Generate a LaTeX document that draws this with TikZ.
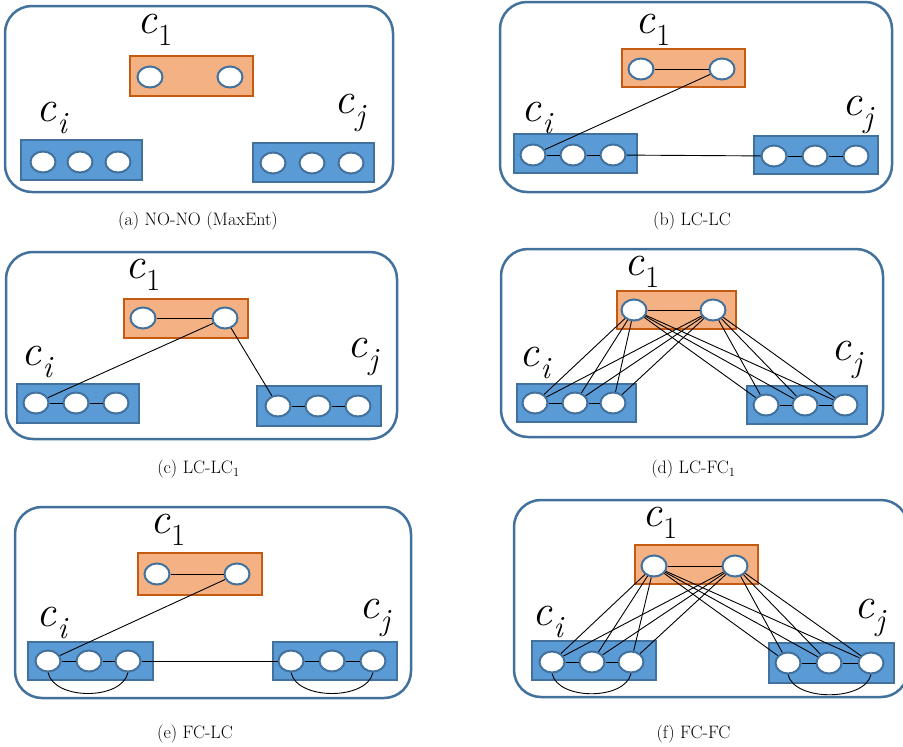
\documentclass[tikz,border=0pt]{standalone}
\usepackage{fontspec}
\usetikzlibrary{shapes.geometric}
\definecolor{obl}{HTML}{41719C}
\definecolor{bfill}{HTML}{5B9BD5}
\definecolor{ofill}{HTML}{F4B183}
\definecolor{oedge}{HTML}{C55A11}
\newcommand\clab[1]{{\itshape c}\kern1pt\textsubscript{#1}}
\tikzset{
 panel/.style={draw=obl, line width=2.5pt, rounded corners=27pt, rectangle, inner sep=0},
 bbox/.style={draw=obl, fill=bfill, line width=2.2pt, inner sep=0, rectangle},
 obox/.style={draw=oedge, fill=ofill, line width=2.2pt, inner sep=0, rectangle},
 nd/.style={ellipse, draw=obl, fill=white, line width=2pt, minimum width=25pt, minimum height=21pt, inner sep=0},
 lbl/.style={font=\fontsize{44}{44}\selectfont, inner sep=0},
 captxt/.style={font=\fontsize{18}{20}\selectfont, inner sep=0},
 ed/.style={draw=black, line width=0.9pt},
}
\begin{document}
\begin{tikzpicture}[x=1pt,y=-1pt]
\useasboundingbox (0,0) rectangle (903,747);
% ---------- (a)
\node[panel, minimum width=388pt, minimum height=186pt] (apan) at (199,99) {};
\node[obox, minimum width=123pt, minimum height=40pt] (a1box) at (191.5,76) {};
\node[bbox, minimum width=121pt, minimum height=40pt] (aibox) at (81.5,160) {};
\node[bbox, minimum width=121pt, minimum height=39pt] (ajbox) at (313.5,162.5) {};
\node[nd] (a1a) at (150,77) {};
\node[nd] (a1b) at (230,77) {};
\node[nd] (aia) at (43,162) {};
\node[nd] (aib) at (80,162) {};
\node[nd] (aic) at (118,162) {};
\node[nd] (aja) at (273,163) {};
\node[nd] (ajb) at (312,163) {};
\node[nd] (ajc) at (351,163) {};
\node[lbl] (a1lab) at (155,30) {\clab{1}};
\node[lbl] (ailab) at (52,118) {\clab{\itshape i}};
\node[lbl] (ajlab) at (350,113) {\clab{\itshape j}};
\node[captxt] (acap) at (198,221) {(a) NO-NO (MaxEnt)};
% ---------- (b)
\node[panel, minimum width=392pt, minimum height=190pt] (bpan) at (696,97) {};
\node[obox, minimum width=123pt, minimum height=38pt] (b1box) at (683.5,68) {};
\node[bbox, minimum width=123pt, minimum height=39pt] (bibox) at (575.5,153.5) {};
\node[bbox, minimum width=124pt, minimum height=38pt] (bjbox) at (816,155) {};
\node[nd] (b1a) at (641,69) {};
\node[nd] (b1b) at (722,69) {};
\node[nd] (bia) at (533,155) {};
\node[nd] (bib) at (573,155) {};
\node[nd] (bic) at (613,155) {};
\node[nd] (bja) at (774,156) {};
\node[nd] (bjb) at (815,156) {};
\node[nd] (bjc) at (856,156) {};
\node[lbl] (b1lab) at (653,30) {\clab{1}};
\node[lbl] (bilab) at (537,118) {\clab{\itshape i}};
\node[lbl] (bjlab) at (858,115) {\clab{\itshape j}};
\node[captxt] (bcap) at (692,221) {(b) LC-LC};
\draw[ed] (b1a) -- (b1b);
\draw[ed] (b1b) -- (bia);
\draw[ed] (bia) -- (bib) -- (bic);
\draw[ed] (bic) -- (bja);
\draw[ed] (bja) -- (bjb) -- (bjc);
% ---------- (c)
\node[panel, minimum width=391pt, minimum height=187pt] (cpan) at (201.5,345.5) {};
\node[obox, minimum width=124pt, minimum height=39pt] (c1box) at (186,318.5) {};
\node[bbox, minimum width=122pt, minimum height=39pt] (cibox) at (78,403.5) {};
\node[bbox, minimum width=124pt, minimum height=40pt] (cjbox) at (319,406) {};
\node[nd] (c1a) at (143,318) {};
\node[nd] (c1b) at (225,318) {};
\node[nd] (cia) at (36,403) {};
\node[nd] (cib) at (76,403) {};
\node[nd] (cic) at (116,403) {};
\node[nd] (cja) at (278,406) {};
\node[nd] (cjb) at (318,406) {};
\node[nd] (cjc) at (358,406) {};
\node[lbl] (c1lab) at (143,275) {\clab{1}};
\node[lbl] (cilab) at (37,362) {\clab{\itshape i}};
\node[lbl] (cjlab) at (363,357) {\clab{\itshape j}};
\node[captxt] (ccap) at (198.5,469) {(c) LC-LC\textsubscript{1}};
\draw[ed] (c1a) -- (c1b);
\draw[ed] (c1b) -- (cia);
\draw[ed] (c1b) -- (cja);
\draw[ed] (cia) -- (cib) -- (cic);
\draw[ed] (cja) -- (cjb) -- (cjc);
% ---------- (d)
\node[panel, minimum width=382pt, minimum height=188pt] (dpan) at (692,343) {};
\node[obox, minimum width=119pt, minimum height=38pt] (d1box) at (676.5,310) {};
\node[bbox, minimum width=119pt, minimum height=38pt] (dibox) at (576.5,403) {};
\node[bbox, minimum width=120pt, minimum height=38pt] (djbox) at (807,405) {};
\node[nd] (d1a) at (634,310) {};
\node[nd] (d1b) at (713,310) {};
\node[nd] (dia) at (535,403) {};
\node[nd] (dib) at (575,403) {};
\node[nd] (dic) at (613,403) {};
\node[nd] (dja) at (766,405) {};
\node[nd] (djb) at (805,405) {};
\node[nd] (djc) at (845,405) {};
\node[lbl] (d1lab) at (642,272) {\clab{1}};
\node[lbl] (dilab) at (535,363) {\clab{\itshape i}};
\node[lbl] (djlab) at (847,360) {\clab{\itshape j}};
\node[captxt] (dcap) at (693.5,469) {(d) LC-FC\textsubscript{1}};
\draw[ed] (d1a) -- (d1b);
\foreach \s in {d1a,d1b}{\foreach \t in {dia,dib,dic,dja,djb,djc}{\draw[ed] (\s) -- (\t);}}
\draw[ed] (dia) -- (dib) -- (dic);
\draw[ed] (dja) -- (djb) -- (djc);
% ---------- (e)
\node[panel, minimum width=396pt, minimum height=191pt] (epan) at (213,602.5) {};
\node[obox, minimum width=124pt, minimum height=42pt] (e1box) at (200,574) {};
\node[bbox, minimum width=125pt, minimum height=38pt] (eibox) at (90.5,661) {};
\node[bbox, minimum width=124pt, minimum height=38pt] (ejbox) at (335,661) {};
\node[nd] (e1a) at (157,574) {};
\node[nd] (e1b) at (237,574) {};
\node[nd] (eia) at (48,661) {};
\node[nd] (eib) at (89,661) {};
\node[nd] (eic) at (128,661) {};
\node[nd] (eja) at (291,661) {};
\node[nd] (ejb) at (332,661) {};
\node[nd] (ejc) at (373,661) {};
\node[lbl] (e1lab) at (168,530) {\clab{1}};
\node[lbl] (eilab) at (52,623) {\clab{\itshape i}};
\node[lbl] (ejlab) at (375,618) {\clab{\itshape j}};
\node[captxt] (ecap) at (195,734) {(e) FC-LC};
\draw[ed] (e1a) -- (e1b);
\draw[ed] (e1b) -- (eia);
\draw[ed] (eia) -- (eib) -- (eic);
\draw[ed] (eic) -- (eja);
\draw[ed] (eja) -- (ejb) -- (ejc);
\draw[ed] (eia.south) .. controls +(6,28) and +(-6,28) .. (eic.south);
\draw[ed] (eja.south) .. controls +(6,28) and +(-6,28) .. (ejc.south);
% ---------- (f)
\node[panel, minimum width=394pt, minimum height=197pt] (fpan) at (711,598.5) {};
\node[obox, minimum width=123pt, minimum height=39pt] (f1box) at (696.5,564.5) {};
\node[bbox, minimum width=124pt, minimum height=39pt] (fibox) at (594,660.5) {};
\node[bbox, minimum width=125pt, minimum height=40pt] (fjbox) at (831.5,663) {};
\node[nd] (f1a) at (654,566) {};
\node[nd] (f1b) at (735,566) {};
\node[nd] (fia) at (552,662) {};
\node[nd] (fib) at (592,662) {};
\node[nd] (fic) at (631,662) {};
\node[nd] (fja) at (788,663) {};
\node[nd] (fjb) at (829,663) {};
\node[nd] (fjc) at (871,663) {};
\node[lbl] (f1lab) at (660,523) {\clab{1}};
\node[lbl] (filab) at (548,622) {\clab{\itshape i}};
\node[lbl] (fjlab) at (870,618) {\clab{\itshape j}};
\node[captxt] (fcap) at (693.5,734) {(f) FC-FC};
\draw[ed] (f1a) -- (f1b);
\foreach \s in {f1a,f1b}{\foreach \t in {fia,fib,fic,fja,fjb,fjc}{\draw[ed] (\s) -- (\t);}}
\draw[ed] (fia) -- (fib) -- (fic);
\draw[ed] (fja) -- (fjb) -- (fjc);
\draw[ed] (fia.south) .. controls +(6,27) and +(-6,27) .. (fic.south);
\draw[ed] (fja.south) .. controls +(6,27) and +(-6,27) .. (fjc.south);
\end{tikzpicture}
\end{document}
